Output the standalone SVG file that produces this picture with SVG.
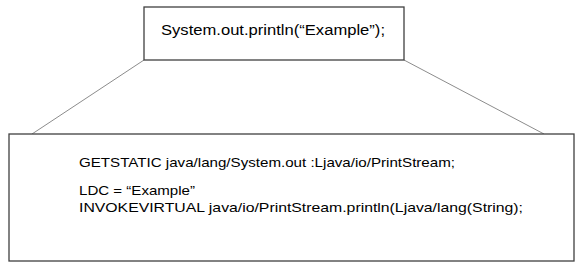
<svg xmlns="http://www.w3.org/2000/svg" width="582" height="271" viewBox="0 0 582 271">
<style>
.box{fill:#fff;stroke:#404040;stroke-width:1.3}
.con{stroke:#8c8c8c;stroke-width:1;fill:none}
text{font-family:"Liberation Sans","DejaVu Sans",sans-serif;font-size:14px;fill:#000}
.code{font-size:13.5px}
</style>
<rect width="582" height="271" fill="#fff"/>
<g id="connectors">
<line class="con" x1="144" y1="60" x2="32" y2="134"/>
<line class="con" x1="404" y1="60" x2="544" y2="134"/>
</g>
<g id="source">
<rect class="box" x="144" y="7" width="260" height="53"/>
<text x="161" y="34.5" textLength="224" lengthAdjust="spacingAndGlyphs">System.out.println(“Example”);</text>
</g>
<g id="bytecode">
<rect class="box" x="9" y="134" width="565" height="127"/>
<text class="code" x="79" y="167" textLength="376" lengthAdjust="spacingAndGlyphs">GETSTATIC java/lang/System.out :Ljava/io/PrintStream;</text>
<text class="code" x="79" y="195" textLength="116" lengthAdjust="spacingAndGlyphs">LDC = “Example”</text>
<text class="code" x="79" y="212" textLength="444" lengthAdjust="spacingAndGlyphs">INVOKEVIRTUAL java/io/PrintStream.println(Ljava/lang(String);</text>
</g>
</svg>
